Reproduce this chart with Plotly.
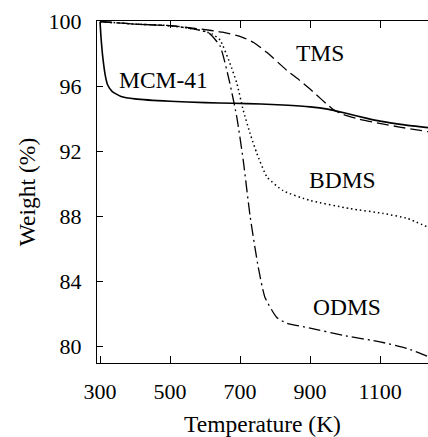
import plotly.graph_objects as go

# Temperature (K) and weight (%)
mcm_T = [300, 303, 308, 315, 322, 335, 360, 400, 500, 600, 680, 760, 823, 900, 950, 1000, 1063, 1100, 1170, 1237]
mcm_W = [100, 99.0, 97.8, 96.7, 96.1, 95.7, 95.4, 95.25, 95.1, 95.02, 94.98, 94.93, 94.87, 94.76, 94.62, 94.38, 94.05, 93.88, 93.65, 93.48]

tms_T = [300, 400, 500, 586, 650, 700, 740, 777, 834, 870, 900, 966, 994, 1040, 1091, 1160, 1237]
tms_W = [100, 99.85, 99.75, 99.55, 99.35, 99.1, 98.7, 98.1, 97.0, 96.4, 95.85, 94.6, 94.3, 94.0, 93.77, 93.5, 93.23]

bdms_T = [300, 400, 500, 580, 620, 643, 671, 691, 709, 729, 748, 777, 823, 900, 1014, 1109, 1177, 1237]
bdms_W = [100, 99.85, 99.75, 99.5, 99.25, 98.87, 97.45, 96.2, 94.56, 93.1, 91.9, 90.45, 89.6, 89.0, 88.5, 88.2, 87.9, 87.35]

odms_T = [300, 400, 500, 580, 611, 643, 671, 691, 709, 729, 752, 771, 805, 834, 900, 994, 1100, 1177, 1237]
odms_W = [100, 99.85, 99.75, 99.5, 99.3, 98.5, 96.2, 94.1, 91.5, 88.0, 84.9, 83.05, 81.8, 81.45, 81.15, 80.7, 80.3, 79.9, 79.4]

label_text = ["MCM-41", "TMS", "BDMS", "ODMS"]
label_T = [480, 929, 994, 1006]
label_W = [96.41, 98.07, 90.26, 82.44]

x_ticks = [300, 500, 700, 900, 1100]
y_ticks = [80, 84, 88, 92, 96, 100]

FONT = "Liberation Serif"

fig = go.Figure()
series = [
    (mcm_T, mcm_W, "solid", 1.6),
    (tms_T, tms_W, "12px,5px", 1.3),
    (bdms_T, bdms_W, "1.5px,3px", 1.5),
    (odms_T, odms_W, "12px,4px,2px,4px", 1.3),
]
for T, W, dash, w in series:
    fig.add_trace(go.Scatter(
        x=T, y=W, mode="lines",
        line=dict(color="black", width=w, dash=dash, shape="spline", smoothing=0.5),
        showlegend=False, hoverinfo="skip",
    ))

for t, x, y in zip(label_text, label_T, label_W):
    fig.add_annotation(x=x, y=y, text=t, showarrow=False,
                       font=dict(family=FONT, size=23.5, color="black"))

fig.update_layout(
    width=428, height=437,
    margin=dict(l=97, r=0, t=21, b=74),
    paper_bgcolor="white", plot_bgcolor="white",
    font=dict(family=FONT, size=22, color="black"),
)
fig.update_xaxes(
    range=[291.4, 1237], tickvals=x_ticks, ticks="inside", ticklen=7, tickwidth=1,
    tickcolor="black", showline=True, linecolor="black", linewidth=1.2, mirror="ticks",
    showgrid=False, zeroline=False, ticklabelstandoff=8,
    title=dict(text="Temperature (K)", font=dict(family=FONT, size=23.5), standoff=16),
)
fig.update_yaxes(
    range=[79.0, 100.04], tickvals=y_ticks, ticks="inside", ticklen=6, tickwidth=1,
    tickcolor="black", showline=True, linecolor="black", linewidth=1.2, mirror=False,
    showgrid=False, zeroline=False, ticklabelstandoff=10,
    title=dict(text="Weight (%)", font=dict(family=FONT, size=23.5), standoff=6),
)

fig.write_html("out.html")
